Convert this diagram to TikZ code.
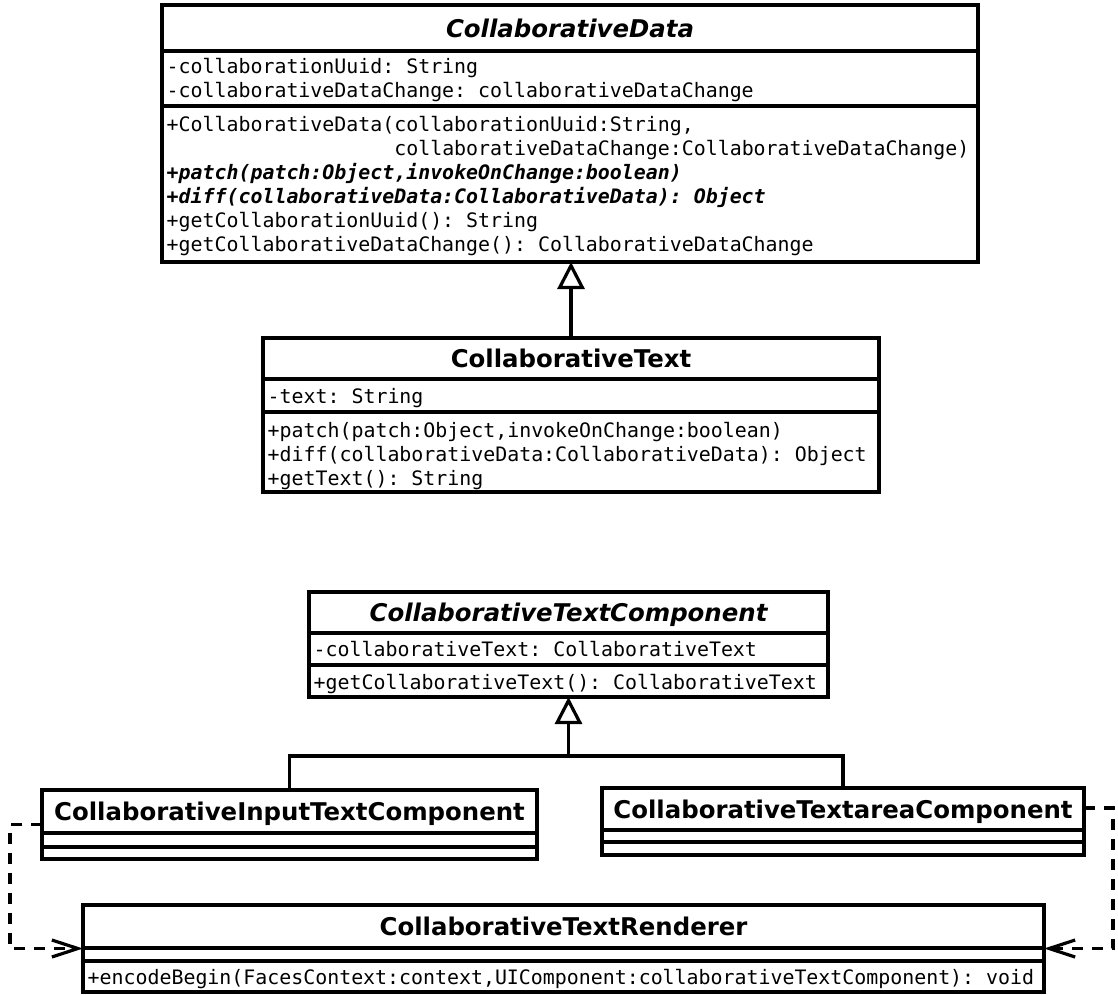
\documentclass[tikz,border=0pt]{standalone}
\usepackage{fontspec}
\setmainfont{DejaVu Sans}
\setmonofont{DejaVu Sans Mono}
\usetikzlibrary{arrows.meta,calc}

\newcommand\classtitlefont{\fontsize{24.4pt}{29pt}\selectfont\bfseries}
\newcommand\memberfont{\ttfamily\fontsize{19.9pt}{24pt}\selectfont}

\tikzset{
  classbox/.style={draw, line width=3.4pt, fill=white, inner sep=0pt, outer sep=0pt},
  rule/.style={line width=3.4pt},
  ctitle/.style={anchor=base, inner sep=0pt, font=\classtitlefont},
  member/.style={anchor=base west, inner sep=0pt, font=\memberfont},
  gen/.style={line width=3.2pt, -{Triangle[open, length=27pt, width=27pt, line width=3.2pt]}},
  dep/.style={line width=3.2pt, dash pattern=on 11pt off 9pt,
    -{Straight Barb[length=26pt, width=17pt, line width=3.2pt]}},
}

\begin{document}
\begin{tikzpicture}[x=1pt, y=-1pt]
\fill[white] (0,0) rectangle (1118,994);
\useasboundingbox (0,0) rectangle (1118,994);

% ---------- CollaborativeData (abstract) ----------
\node[classbox, minimum width=816pt, minimum height=257pt] (cd) at (570,133.5) {};
\draw[rule] (162,51) -- (978,51);
\draw[rule] (162,106) -- (978,106);
\node[ctitle] (cd-t) at (570,37) {\itshape CollaborativeData};
\node[member] (cd-a1) at (166.5,73) {-collaborationUuid: String};
\node[member] (cd-a2) at (166.5,97) {-collaborativeDataChange: collaborativeDataChange};
\node[member] (cd-m1) at (166.5,131) {+CollaborativeData(collaborationUuid:String,};
\node[member] (cd-m2) at (166.5,155) {\phantom{+CollaborativeData(}collaborativeDataChange:CollaborativeDataChange)};
\node[member] (cd-m3) at (166.5,179) {\bfseries\itshape +patch(patch:Object,invokeOnChange:boolean)};
\node[member] (cd-m4) at (166.5,203) {\bfseries\itshape +diff(collaborativeData:CollaborativeData): Object};
\node[member] (cd-m5) at (166.5,227) {+getCollaborationUuid(): String};
\node[member] (cd-m6) at (166.5,251) {+getCollaborativeDataChange(): CollaborativeDataChange};

% ---------- CollaborativeText ----------
\node[classbox, minimum width=616pt, minimum height=154pt] (ct) at (571,415) {};
\draw[rule] (263,379) -- (879,379);
\draw[rule] (263,412) -- (879,412);
\node[ctitle] (ct-t) at (571,367) {CollaborativeText};
\node[member] (ct-a1) at (267.5,403) {-text: String};
\node[member] (ct-m1) at (267.5,437) {+patch(patch:Object,invokeOnChange:boolean)};
\node[member] (ct-m2) at (267.5,461) {+diff(collaborativeData:CollaborativeData): Object};
\node[member] (ct-m3) at (267.5,485) {+getText(): String};

% ---------- CollaborativeTextComponent (abstract) ----------
\node[classbox, minimum width=519pt, minimum height=105pt] (ctc) at (568.5,644.5) {};
\draw[rule] (309,633) -- (828,633);
\draw[rule] (309,665) -- (828,665);
\node[ctitle] (ctc-t) at (568.5,621) {\itshape CollaborativeTextComponent};
\node[member] (ctc-a1) at (313.5,656) {-collaborativeText: CollaborativeText};
\node[member] (ctc-m1) at (313.5,689) {+getCollaborativeText(): CollaborativeText};

% ---------- CollaborativeInputTextComponent ----------
\node[classbox, minimum width=495pt, minimum height=69pt] (cic) at (289.5,824.5) {};
\draw[rule] (42,833) -- (537,833);
\draw[rule] (42,847) -- (537,847);
\node[ctitle] (cic-t) at (289.5,820) {CollaborativeInputTextComponent};

% ---------- CollaborativeTextareaComponent ----------
\node[classbox, minimum width=482pt, minimum height=67pt] (cta) at (843,821.5) {};
\draw[rule] (602,830) -- (1084,830);
\draw[rule] (602,842) -- (1084,842);
\node[ctitle] (cta-t) at (843,818) {CollaborativeTextareaComponent};

% ---------- CollaborativeTextRenderer ----------
\node[classbox, minimum width=961pt, minimum height=87pt] (crr) at (563.5,948.5) {};
\draw[rule] (83,948) -- (1044,948);
\draw[rule] (83,961) -- (1044,961);
\node[ctitle] (crr-t) at (563.5,935) {CollaborativeTextRenderer};
\node[member] (crr-m1) at (87.5,984) {+encodeBegin(FacesContext:context,UIComponent:collaborativeTextComponent): void};

% ---------- generalisations ----------
\draw[gen] (ct.north) -- (ct.north |- cd.south);
\coordinate (jn) at (568.5,756);
\draw[rule] (cic.north) |- (jn);
\draw[rule] (cta.north) |- (jn);
\draw[gen] (jn) -- (ctc.south);

% ---------- dependencies on the renderer ----------
\draw[dep] (cic.west) -- ++(-32,0) |- (crr.west);
\coordinate (ctaout) at ($(cta.north east)+(0,20)$);
\draw[dep] (ctaout) -- ++(29,0) |- (crr.east);
\end{tikzpicture}
\end{document}
